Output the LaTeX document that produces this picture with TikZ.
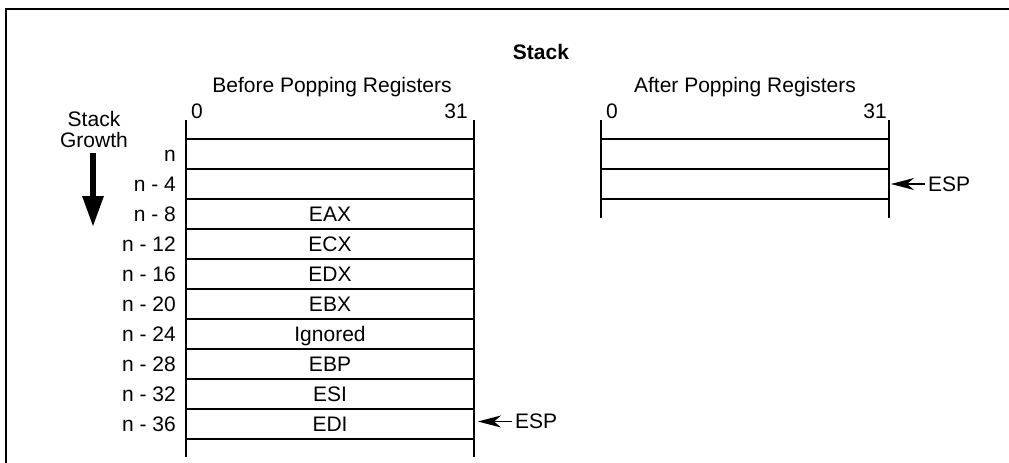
\documentclass[tikz,border=0pt]{standalone}
\usepackage{fontspec}
\setmainfont{Liberation Sans}
\usetikzlibrary{arrows.meta}
\begin{document}
\begin{tikzpicture}[x=1pt,y=-1pt,font=\fontsize{21}{21}\selectfont,
    cell/.style={draw,line width=1.2pt,minimum width=288pt,minimum height=30pt,
      inner sep=0pt,outer sep=0pt,text height=15pt,text depth=0pt},
    wall/.style={line width=1.2pt},
    lab/.style={anchor=base east,inner sep=0pt},
    bit/.style={anchor=base,inner sep=0pt},
    ptr/.style={line width=1.2pt,shorten <=3pt,-{Stealth[length=23pt,width=12pt,inset=7pt]}}]
  \useasboundingbox (0,0) rectangle (1009,463);
  \draw[line width=2.8pt] (1009,9) -- (6,9) -- (6,463);

  \node[font=\fontsize{21}{21}\selectfont\bfseries,bit] (title) at (541,59) {Stack};
  \node[bit] (before) at (332,92) {Before Popping Registers};
  \node[bit] (after) at (745,92) {After Popping Registers};
  \node[bit] (b0bit) at (197,118) {0};
  \node[bit] (b31bit) at (456,118) {31};
  \node[bit] (a0bit) at (612,118) {0};
  \node[bit] (a31bit) at (875,118) {31};

  \node[align=center,inner sep=0pt] (growth) at (94,129.5) {Stack\\Growth};
  \coordinate (gtop) at (93,153);
  \coordinate (gtip) at (93,227);
  \draw[line width=6pt,-{Triangle[length=31pt,width=20pt]}] (gtop) -- (gtip);

  \node[cell] (b0) at (330,154) {};
  \node[cell] (b1) at (330,184) {};
  \node[cell] (b2) at (330,214) {EAX};
  \node[cell] (b3) at (330,244) {ECX};
  \node[cell] (b4) at (330,274) {EDX};
  \node[cell] (b5) at (330,304) {EBX};
  \node[cell] (b6) at (330,334) {Ignored};
  \node[cell] (b7) at (330,364) {EBP};
  \node[cell] (b8) at (330,394) {ESI};
  \node[cell] (b9) at (330,424) {EDI};

  \node[lab] (l0) at (176,161.5) {n};
  \node[lab] (l1) at (176,191.5) {n - 4};
  \node[lab] (l2) at (176,221.5) {n - 8};
  \node[lab] (l3) at (176,251.5) {n - 12};
  \node[lab] (l4) at (176,281.5) {n - 16};
  \node[lab] (l5) at (176,311.5) {n - 20};
  \node[lab] (l6) at (176,341.5) {n - 24};
  \node[lab] (l7) at (176,371.5) {n - 28};
  \node[lab] (l8) at (176,401.5) {n - 32};
  \node[lab] (l9) at (176,431.5) {n - 36};

  \coordinate (btl) at (186,120);
  \coordinate (btr) at (474,120);
  \coordinate (bbl) at (186,457);
  \coordinate (bbr) at (474,457);
  \draw[wall] (btl) -- (b0.north west);
  \draw[wall] (btr) -- (b0.north east);
  \draw[wall] (b9.south west) -- (bbl);
  \draw[wall] (b9.south east) -- (bbr);

  \node[cell] (a0) at (745,154) {};
  \node[cell] (a1) at (745,184) {};
  \coordinate (atl) at (601,120);
  \coordinate (atr) at (889,120);
  \coordinate (abl) at (601,218);
  \coordinate (abr) at (889,218);
  \draw[wall] (atl) -- (a0.north west);
  \draw[wall] (atr) -- (a0.north east);
  \draw[wall] (a1.south west) -- (abl);
  \draw[wall] (a1.south east) -- (abr);

  \node[anchor=west,inner sep=0pt] (bsp) at (515,421.5) {ESP};
  \coordinate (bsptip) at (478,421.5);
  \draw[ptr] (bsp.west) -- (bsptip);
  \node[anchor=west,inner sep=0pt] (asp) at (928,184) {ESP};
  \coordinate (asptip) at (891,184);
  \draw[ptr] (asp.west) -- (asptip);
\end{tikzpicture}
\end{document}
